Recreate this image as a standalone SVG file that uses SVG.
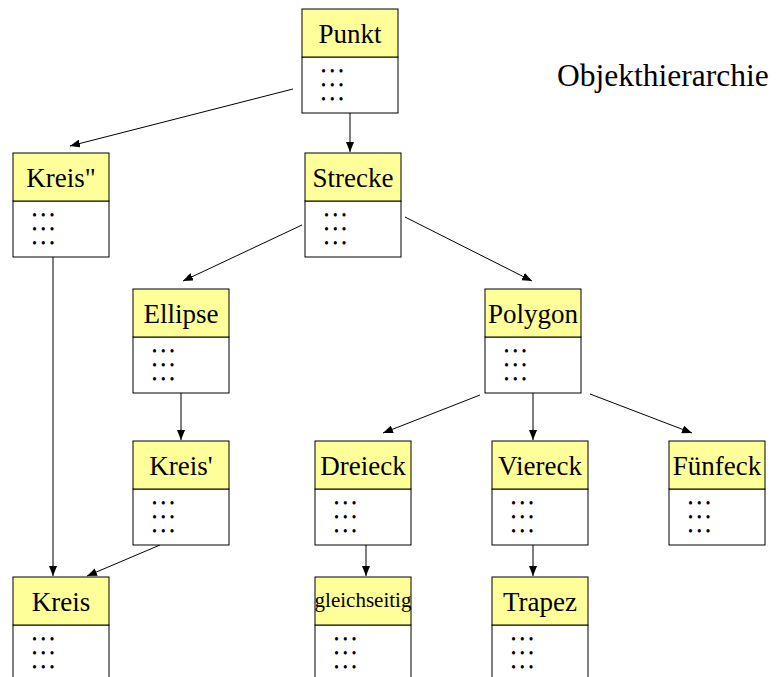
<svg xmlns="http://www.w3.org/2000/svg" width="776" height="677" viewBox="0 0 776 677">
<style>
.hd{fill:#FFFF99;stroke:#000;stroke-width:1}
.bd{fill:#FFFFFF;stroke:#000;stroke-width:1}
text{font-family:'Liberation Serif','DejaVu Serif',serif;fill:#000}
.lb{font-size:27px;text-anchor:middle}
.sm{font-size:21px;text-anchor:middle}
.dt{font-size:11.5px;font-weight:bold;letter-spacing:4.7px}
.ti{font-size:31.5px}
.cn{stroke:#000;stroke-width:1;fill:none;marker-end:url(#ah)}
</style>
<defs>
<marker id="ah" markerUnits="userSpaceOnUse" markerWidth="10" markerHeight="8" refX="10" refY="4" orient="auto">
<path d="M0,0 L10,4 L0,8 z" fill="#000"/>
</marker>
</defs>
<rect width="776" height="677" fill="#fff"/>
<text class="ti" x="557" y="86">Objekthierarchie</text>
<g id="connectors">
<line class="cn" x1="293" y1="89" x2="70" y2="146"/>
<line class="cn" x1="350" y1="113" x2="350" y2="152"/>
<line class="cn" x1="302" y1="225" x2="183" y2="281"/>
<line class="cn" x1="405" y1="217" x2="532" y2="281"/>
<line class="cn" x1="53" y1="257" x2="53" y2="576"/>
<line class="cn" x1="181" y1="393" x2="181" y2="440"/>
<line class="cn" x1="160" y1="545" x2="87" y2="576"/>
<line class="cn" x1="480" y1="395" x2="383" y2="433"/>
<line class="cn" x1="533" y1="393" x2="533" y2="440"/>
<line class="cn" x1="590" y1="394" x2="692" y2="433"/>
<line class="cn" x1="366" y1="545" x2="366" y2="576"/>
<line class="cn" x1="533" y1="545" x2="533" y2="576"/>
</g>
<g id="punkt" transform="translate(302,9)">
<rect class="bd" x="0" y="48" width="96" height="56"/><rect class="hd" x="0" y="0" width="96" height="48"/>
<text class="lb" x="48" y="34">Punkt</text>
<text class="dt"><tspan x="19.5" y="66.3">•••</tspan><tspan x="19.5" y="80.1">•••</tspan><tspan x="19.5" y="93.8">•••</tspan></text>
</g>
<g id="kreis2" transform="translate(13,153)">
<rect class="bd" x="0" y="48" width="96" height="56"/><rect class="hd" x="0" y="0" width="96" height="48"/>
<text class="lb" x="48" y="34">Kreis"</text>
<text class="dt"><tspan x="19.5" y="66.3">•••</tspan><tspan x="19.5" y="80.1">•••</tspan><tspan x="19.5" y="93.8">•••</tspan></text>
</g>
<g id="strecke" transform="translate(305,153)">
<rect class="bd" x="0" y="48" width="96" height="56"/><rect class="hd" x="0" y="0" width="96" height="48"/>
<text class="lb" x="48" y="34">Strecke</text>
<text class="dt"><tspan x="19.5" y="66.3">•••</tspan><tspan x="19.5" y="80.1">•••</tspan><tspan x="19.5" y="93.8">•••</tspan></text>
</g>
<g id="ellipse" transform="translate(133,289)">
<rect class="bd" x="0" y="48" width="96" height="56"/><rect class="hd" x="0" y="0" width="96" height="48"/>
<text class="lb" x="48" y="34">Ellipse</text>
<text class="dt"><tspan x="19.5" y="66.3">•••</tspan><tspan x="19.5" y="80.1">•••</tspan><tspan x="19.5" y="93.8">•••</tspan></text>
</g>
<g id="polygon" transform="translate(485,289)">
<rect class="bd" x="0" y="48" width="96" height="56"/><rect class="hd" x="0" y="0" width="96" height="48"/>
<text class="lb" x="48" y="34">Polygon</text>
<text class="dt"><tspan x="19.5" y="66.3">•••</tspan><tspan x="19.5" y="80.1">•••</tspan><tspan x="19.5" y="93.8">•••</tspan></text>
</g>
<g id="kreis1" transform="translate(133,441)">
<rect class="bd" x="0" y="48" width="96" height="56"/><rect class="hd" x="0" y="0" width="96" height="48"/>
<text class="lb" x="48" y="34">Kreis'</text>
<text class="dt"><tspan x="19.5" y="66.3">•••</tspan><tspan x="19.5" y="80.1">•••</tspan><tspan x="19.5" y="93.8">•••</tspan></text>
</g>
<g id="dreieck" transform="translate(315,441)">
<rect class="bd" x="0" y="48" width="96" height="56"/><rect class="hd" x="0" y="0" width="96" height="48"/>
<text class="lb" x="48" y="34">Dreieck</text>
<text class="dt"><tspan x="19.5" y="66.3">•••</tspan><tspan x="19.5" y="80.1">•••</tspan><tspan x="19.5" y="93.8">•••</tspan></text>
</g>
<g id="viereck" transform="translate(492,441)">
<rect class="bd" x="0" y="48" width="96" height="56"/><rect class="hd" x="0" y="0" width="96" height="48"/>
<text class="lb" x="48" y="34">Viereck</text>
<text class="dt"><tspan x="19.5" y="66.3">•••</tspan><tspan x="19.5" y="80.1">•••</tspan><tspan x="19.5" y="93.8">•••</tspan></text>
</g>
<g id="fuenfeck" transform="translate(669,441)">
<rect class="bd" x="0" y="48" width="96" height="56"/><rect class="hd" x="0" y="0" width="96" height="48"/>
<text class="lb" x="48" y="34">Fünfeck</text>
<text class="dt"><tspan x="19.5" y="66.3">•••</tspan><tspan x="19.5" y="80.1">•••</tspan><tspan x="19.5" y="93.8">•••</tspan></text>
</g>
<g id="kreis" transform="translate(13,577)">
<rect class="bd" x="0" y="48" width="96" height="56"/><rect class="hd" x="0" y="0" width="96" height="48"/>
<text class="lb" x="48" y="34">Kreis</text>
<text class="dt"><tspan x="19.5" y="66.3">•••</tspan><tspan x="19.5" y="80.1">•••</tspan><tspan x="19.5" y="93.8">•••</tspan></text>
</g>
<g id="gleichseitig" transform="translate(315,577)">
<rect class="bd" x="0" y="48" width="96" height="56"/><rect class="hd" x="0" y="0" width="96" height="48"/>
<text class="sm" x="48" y="30">gleichseitig</text>
<text class="dt"><tspan x="19.5" y="66.3">•••</tspan><tspan x="19.5" y="80.1">•••</tspan><tspan x="19.5" y="93.8">•••</tspan></text>
</g>
<g id="trapez" transform="translate(492,577)">
<rect class="bd" x="0" y="48" width="96" height="56"/><rect class="hd" x="0" y="0" width="96" height="48"/>
<text class="lb" x="48" y="34">Trapez</text>
<text class="dt"><tspan x="19.5" y="66.3">•••</tspan><tspan x="19.5" y="80.1">•••</tspan><tspan x="19.5" y="93.8">•••</tspan></text>
</g>
</svg>
